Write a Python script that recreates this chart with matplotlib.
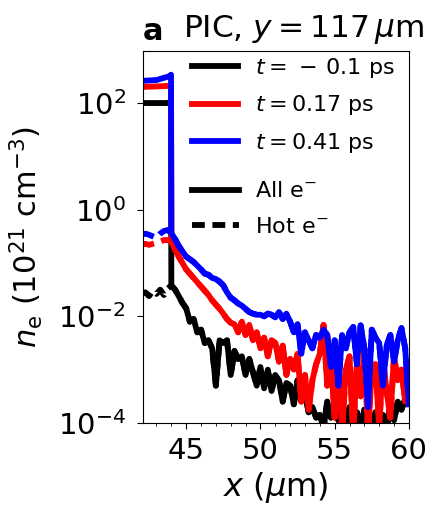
import numpy as np
import matplotlib
matplotlib.use('Agg')
import matplotlib.pyplot as plt
from matplotlib.ticker import MultipleLocator, NullLocator, FixedLocator

# x grid of the hot-electron profiles (um)
x_hot = np.arange(42.0, 60.001, 0.25)

# log10 of hot-electron density (1e21 cm^-3)
log_hot_black = [-1.58, -1.55, -1.62, -1.52, -1.58, -1.50, -1.60, -1.48,
                 -1.42, -1.50, -1.62, -1.75, -1.85, -2.10, -2.05, -2.30,
                 -2.25, -2.50, -2.45, -2.60, -3.30, -2.45, -2.50, -2.45,
                 -3.10, -2.65, -2.80, -2.75, -3.10, -2.80, -3.05, -3.30,
                 -2.95, -3.35, -3.00, -3.40, -3.10, -3.20, -3.60, -3.25,
                 -3.30, -3.65, -3.20, -3.55, -3.45, -3.80, -3.70, -3.90,
                 -3.85, -4.10, -3.60, -3.90, -3.70, -3.95, -3.75, -4.20,
                 -3.70, -3.90, -3.80, -4.10, -3.75, -3.90, -4.20, -3.80,
                 -4.00, -3.85, -4.20, -3.65, -3.95, -3.60, -3.75, -3.55,
                 -3.60]
log_hot_red = [-0.66, -0.64, -0.66, -0.64, -0.62, -0.60, -0.57, -0.57,
               -0.60, -0.75, -0.88, -1.00, -1.12, -1.20, -1.28, -1.36,
               -1.44, -1.52, -1.60, -1.70, -1.78, -1.86, -1.95, -2.05,
               -2.12, -2.15, -2.30, -2.10, -2.35, -2.16, -2.45, -2.30,
               -2.60, -2.40, -2.75, -2.45, -2.50, -2.85, -2.55, -3.10,
               -2.80, -3.00, -2.70, -3.60, -3.10, -3.75, -3.20, -2.90,
               -2.70, -2.16, -3.30, -2.80, -3.90, -2.70, -4.20, -3.00,
               -2.75, -4.20, -2.90, -3.50, -2.60, -4.20, -3.00, -2.90,
               -4.10, -2.80, -3.40, -3.90, -2.75, -3.20, -3.00, -3.60,
               -3.30]
log_hot_blue = [-0.47, -0.45, -0.47, -0.50, -0.53, -0.45, -0.40, -0.38,
                -0.44, -0.55, -0.68, -0.78, -0.88, -0.93, -0.98, -1.05,
                -1.12, -1.20, -1.22, -1.28, -1.30, -1.35, -1.42, -1.55,
                -1.65, -1.70, -1.76, -1.80, -1.86, -1.92, -1.95, -1.97,
                -1.97, -2.00, -1.95, -1.97, -2.02, -1.92, -2.05, -1.95,
                -2.10, -2.30, -2.15, -2.70, -2.30, -2.45, -2.60, -2.35,
                -2.40, -2.25, -2.35, -2.95, -2.45, -3.30, -2.35, -2.60,
                -2.30, -2.20, -2.90, -2.17, -2.60, -3.70, -2.25, -2.40,
                -2.50, -3.30, -2.55, -2.35, -2.85, -2.45, -2.22, -2.60,
                -3.65]

# bulk (all electrons) density inside the target, before the rear surface
x_bulk = [42.0, 43.0, 43.9, 43.98]
bulk_black = [100, 100, 100, 115]
bulk_red = [200, 205, 210, 215]
bulk_blue = [260, 270, 320, 340]

labels = ['$t=\\,-\\,0.1$ ps', '$t=0.17$ ps', '$t=0.41$ ps']
colors = ['black', 'red', 'blue']

fig = plt.figure(figsize=(4.35, 5.09), dpi=100)
ax = fig.add_axes([0.329, 0.169, 0.611, 0.731])

hot_all = [log_hot_black, log_hot_red, log_hot_blue]
bulk_all = [bulk_black, bulk_red, bulk_blue]
lw = 4.2
handles = []
for logh, bulk, c, lab in zip(hot_all, bulk_all, colors, labels):
    hot = 10.0 ** np.array(logh)
    after = x_hot >= 44.0
    xs = np.concatenate([x_bulk, x_hot[after]])
    ys = np.concatenate([bulk, hot[after]])
    h, = ax.plot(xs, ys, color=c, lw=lw, label=lab)
    ax.plot(x_hot, hot, color=c, lw=lw, ls='--', dashes=(2.2, 1.3))
    handles.append(h)

ax.set_yscale('log')
ax.set_xlim(42.1, 60)
ax.set_ylim(1e-4, 9.5e2)
ax.yaxis.set_major_locator(FixedLocator([1e-4, 1e-2, 1e0, 1e2]))
ax.yaxis.set_minor_locator(NullLocator())
ax.xaxis.set_major_locator(MultipleLocator(5))
ax.xaxis.set_minor_locator(MultipleLocator(1))
ax.tick_params(axis='both', which='major', labelsize=21, length=4.5)
ax.tick_params(axis='x', which='major', pad=5.5)
ax.tick_params(axis='y', which='major', pad=8)
ax.tick_params(axis='x', which='minor', length=2.5)

ax.set_xlabel('$x$ ($\\mu$m)', fontsize=23)
ax.set_ylabel('$n_\\mathrm{e}$ ($10^{21}$ cm$^{-3}$)', fontsize=22)
ax.yaxis.set_label_coords(-0.37, 0.5)

ax.text(0.0, 1.012, 'a', transform=ax.transAxes, fontsize=22,
        fontweight='bold', va='bottom', ha='left')
ax.text(0.15, 1.012, 'PIC, $y = 117\\,\\mu$m', transform=ax.transAxes,
        fontsize=22.5, va='bottom', ha='left')

leg1 = ax.legend(handles=handles, loc='upper left', frameon=False,
                 fontsize=16, handlelength=2.1, borderaxespad=0.0,
                 handletextpad=0.75, bbox_to_anchor=(0.149, 1.01),
                 labelspacing=0.6)
ax.add_artist(leg1)
h_all, = ax.plot([], [], color='black', lw=lw)
h_hot, = ax.plot([], [], color='black', lw=lw, ls='--', dashes=(2.2, 1.3))
ax.legend([h_all, h_hot], ['All e$^{-}$', 'Hot e$^{-}$'], loc='upper left',
          frameon=False, fontsize=16, handlelength=2.1, borderaxespad=0.0,
          handletextpad=0.75, bbox_to_anchor=(0.151, 0.673), labelspacing=0.68)

fig.savefig('out.png', dpi=100)
